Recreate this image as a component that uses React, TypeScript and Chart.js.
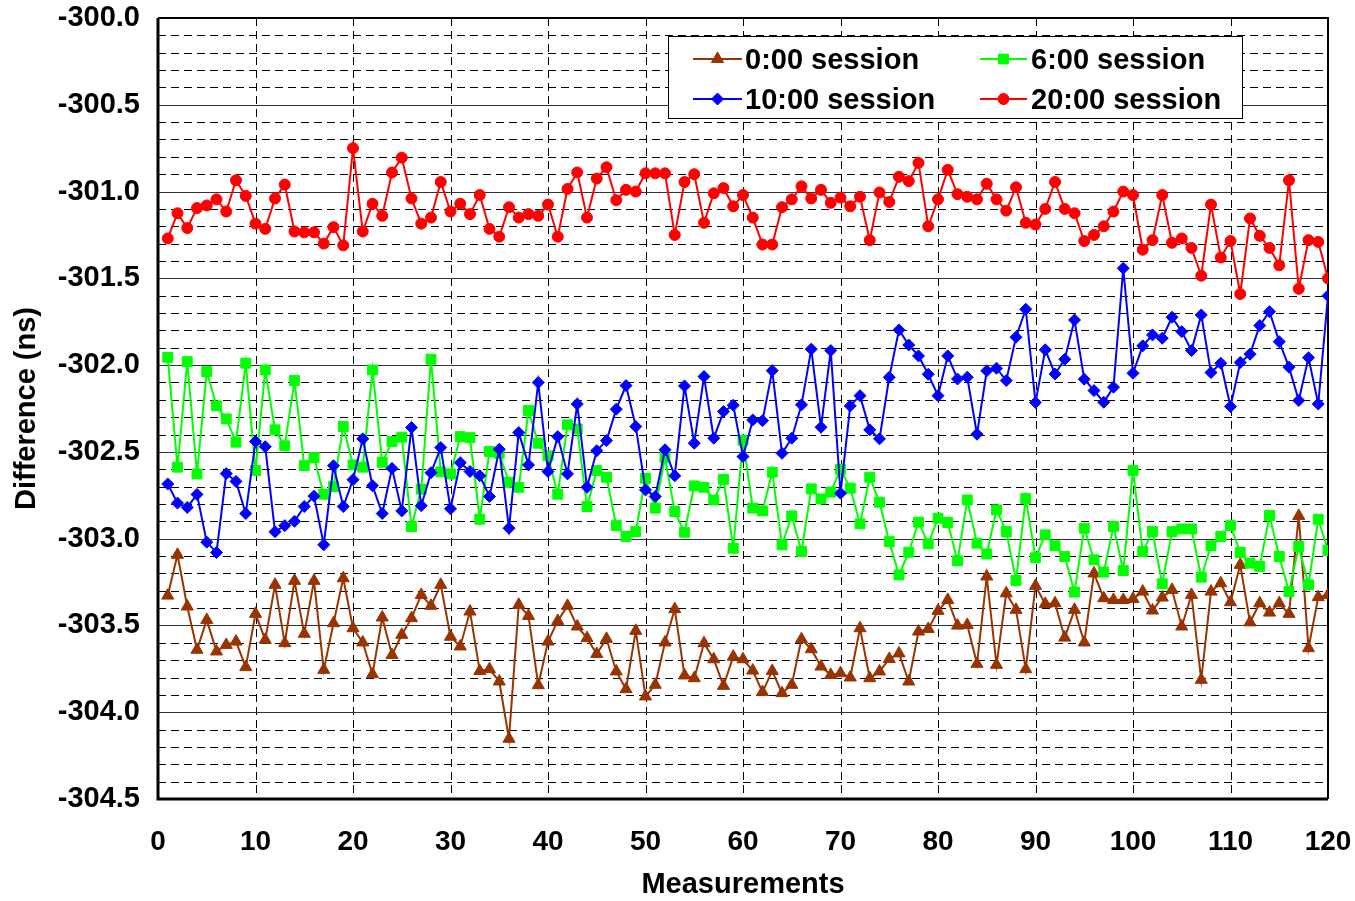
import React, { useEffect, useRef } from 'react';
import { Chart, registerables } from 'chart.js';

Chart.register(...registerables);

// Measurement index (x categories)
const measurements: number[] = Array.from({ length: 120 }, (_, i) => i + 1);

const seriesLabels = ['0:00 session', '6:00 session', '10:00 session', '20:00 session'];

const session0000: number[] = [
  -303.328, -303.093, -303.391, -303.640, -303.468, -303.650, -303.612, -303.593, -303.740, -303.433,
  -303.583, -303.266, -303.602, -303.243, -303.548, -303.243, -303.756, -303.487, -303.228, -303.516,
  -303.598, -303.781, -303.454, -303.670, -303.554, -303.458, -303.324, -303.387, -303.266, -303.565,
  -303.621, -303.420, -303.763, -303.752, -303.823, -304.153, -303.381, -303.445, -303.844, -303.593,
  -303.474, -303.387, -303.506, -303.573, -303.664, -303.577, -303.765, -303.867, -303.531, -303.909,
  -303.842, -303.598, -303.406, -303.788, -303.804, -303.602, -303.695, -303.848, -303.680, -303.695,
  -303.760, -303.884, -303.762, -303.890, -303.842, -303.579, -303.637, -303.737, -303.785, -303.775,
  -303.800, -303.516, -303.804, -303.765, -303.693, -303.661, -303.823, -303.535, -303.520, -303.416,
  -303.353, -303.501, -303.497, -303.721, -303.218, -303.727, -303.315, -303.410, -303.752, -303.272,
  -303.376, -303.372, -303.570, -303.410, -303.598, -303.200, -303.343, -303.353, -303.353, -303.347,
  -303.305, -303.414, -303.339, -303.295, -303.506, -303.324, -303.813, -303.305, -303.257, -303.366,
  -303.151, -303.482, -303.372, -303.426, -303.372, -303.433, -302.869, -303.631, -303.337, -303.324,
];

const session0600: number[] = [
  -301.955, -302.588, -301.980, -302.627, -302.037, -302.235, -302.310, -302.444, -301.989, -302.608,
  -302.028, -302.373, -302.465, -302.089, -302.579, -302.533, -302.744, -302.700, -302.354, -302.575,
  -302.588, -302.028, -302.560, -302.440, -302.415, -302.930, -302.715, -301.966, -302.615, -302.627,
  -302.412, -302.418, -302.888, -302.498, -302.508, -302.675, -302.704, -302.262, -302.450, -302.523,
  -302.744, -302.344, -302.368, -302.815, -302.608, -302.646, -302.925, -302.988, -302.959, -302.652,
  -302.824, -302.533, -302.844, -302.963, -302.696, -302.704, -302.777, -302.658, -303.055, -302.433,
  -302.824, -302.840, -302.617, -303.036, -302.869, -303.074, -302.713, -302.771, -302.732, -302.600,
  -302.709, -302.915, -302.646, -302.790, -303.017, -303.209, -303.078, -302.905, -303.030, -302.882,
  -302.907, -303.128, -302.777, -303.026, -303.088, -302.834, -302.959, -303.241, -302.769, -303.110,
  -302.978, -303.041, -303.103, -303.308, -302.940, -303.122, -303.193, -302.930, -303.184, -302.608,
  -303.074, -302.959, -303.260, -302.959, -302.944, -302.944, -303.222, -303.041, -302.988, -302.925,
  -303.080, -303.141, -303.160, -302.867, -303.103, -303.305, -303.045, -303.266, -302.888, -303.068,
];

const session1000: number[] = [
  -302.685, -302.795, -302.820, -302.745, -303.020, -303.080, -302.625, -302.670, -302.855, -302.440,
  -302.470, -302.960, -302.925, -302.900, -302.815, -302.755, -303.035, -302.580, -302.815, -302.660,
  -302.425, -302.695, -302.855, -302.595, -302.840, -302.360, -302.810, -302.620, -302.475, -302.828,
  -302.562, -302.613, -302.637, -302.757, -302.485, -302.940, -302.389, -302.575, -302.100, -302.613,
  -302.412, -302.627, -302.224, -302.704, -302.493, -302.435, -302.254, -302.118, -302.354, -302.719,
  -302.757, -302.488, -302.638, -302.120, -302.450, -302.066, -302.421, -302.268, -302.231, -302.527,
  -302.316, -302.320, -302.032, -302.508, -302.421, -302.229, -301.908, -302.358, -301.916, -302.738,
  -302.235, -302.176, -302.373, -302.425, -302.070, -301.797, -301.884, -301.947, -302.053, -302.176,
  -301.947, -302.080, -302.070, -302.398, -302.033, -302.018, -302.089, -301.839, -301.678, -302.215,
  -301.912, -302.051, -301.966, -301.740, -302.081, -302.147, -302.214, -302.127, -301.442, -302.047,
  -301.889, -301.826, -301.845, -301.724, -301.807, -301.916, -301.711, -302.043, -301.989, -302.239,
  -301.985, -301.937, -301.772, -301.692, -301.865, -302.012, -302.204, -301.957, -302.224, -301.600,
];

const session2000: number[] = [
  -301.270, -301.125, -301.210, -301.095, -301.080, -301.045, -301.115, -300.935, -301.025, -301.185,
  -301.215, -301.040, -300.960, -301.230, -301.235, -301.235, -301.300, -301.205, -301.310, -300.750,
  -301.230, -301.070, -301.140, -300.890, -300.805, -301.040, -301.185, -301.150, -300.945, -301.115,
  -301.070, -301.130, -301.020, -301.215, -301.260, -301.090, -301.150, -301.130, -301.140, -301.075,
  -301.260, -300.985, -300.890, -301.150, -300.925, -300.860, -301.050, -300.990, -301.000, -300.895,
  -300.895, -300.895, -301.250, -300.945, -300.900, -301.180, -301.010, -300.980, -301.085, -301.020,
  -301.150, -301.305, -301.305, -301.090, -301.045, -300.970, -301.040, -300.990, -301.065, -301.035,
  -301.085, -301.030, -301.280, -301.005, -301.060, -300.915, -300.940, -300.835, -301.200, -301.045,
  -300.875, -301.015, -301.030, -301.045, -300.955, -301.045, -301.110, -300.975, -301.180, -301.190,
  -301.100, -300.945, -301.100, -301.125, -301.285, -301.250, -301.200, -301.115, -301.000, -301.020,
  -301.335, -301.280, -301.020, -301.295, -301.270, -301.325, -301.485, -301.075, -301.380, -301.285,
  -301.590, -301.155, -301.255, -301.325, -301.425, -300.935, -301.560, -301.280, -301.290, -301.500,
];

const yTickValues: number[] = [-300.0, -300.5, -301.0, -301.5, -302.0, -302.5, -303.0, -303.5, -304.0, -304.5];
const xTickValues: number[] = [0, 10, 20, 30, 40, 50, 60, 70, 80, 90, 100, 110, 120];

const BROWN = '#993300';
const GREEN = '#00FF00';
const BLUE = '#0000FF';
const RED = '#FF0000';
const FONT = "'Liberation Sans', Arial, Helvetica, sans-serif";

type Shape = 'triangle' | 'rect' | 'rectRot' | 'circle';

function drawMarker(ctx: CanvasRenderingContext2D, shape: Shape, x: number, y: number, r: number, color: string) {
  ctx.save();
  ctx.fillStyle = color;
  ctx.strokeStyle = color;
  ctx.lineWidth = 1;
  ctx.setLineDash([]);
  ctx.beginPath();
  if (shape === 'triangle') {
    ctx.moveTo(x, y - r);
    ctx.lineTo(x + 0.866 * r, y + 0.5 * r);
    ctx.lineTo(x - 0.866 * r, y + 0.5 * r);
    ctx.closePath();
  } else if (shape === 'rect') {
    const s = Math.SQRT1_2 * r;
    ctx.rect(x - s, y - s, 2 * s, 2 * s);
  } else if (shape === 'rectRot') {
    ctx.moveTo(x, y - r);
    ctx.lineTo(x + r, y);
    ctx.lineTo(x, y + r);
    ctx.lineTo(x - r, y);
    ctx.closePath();
  } else {
    ctx.arc(x, y, r, 0, Math.PI * 2);
  }
  ctx.fill();
  ctx.stroke();
  ctx.restore();
}

const gridPlugin = {
  id: 'excelGrid',
  beforeDatasetsDraw(chart: any) {
    const { ctx, chartArea: a, scales } = chart;
    const x = scales.x;
    const y = scales.y;
    ctx.save();
    // minor dashed horizontal lines every 0.1
    ctx.lineWidth = 1;
    ctx.strokeStyle = '#000';
    ctx.setLineDash([8, 5]);
    for (let k = 1; k < 45; k++) {
      if (k % 5 === 0) continue;
      const py = Math.round(y.getPixelForValue(-300 - k * 0.1)) + 0.5;
      ctx.beginPath();
      ctx.moveTo(a.left, py);
      ctx.lineTo(a.right, py);
      ctx.stroke();
    }
    // vertical dashed lines
    for (let i = 1; i < xTickValues.length - 1; i++) {
      const px = Math.round(x.getPixelForValue(xTickValues[i])) + 0.5;
      ctx.beginPath();
      ctx.moveTo(px, a.top);
      ctx.lineTo(px, a.bottom);
      ctx.stroke();
    }
    // major solid horizontal lines
    ctx.setLineDash([]);
    ctx.strokeStyle = '#333';
    for (let i = 1; i < yTickValues.length - 1; i++) {
      const py = Math.round(y.getPixelForValue(yTickValues[i])) + 0.5;
      ctx.beginPath();
      ctx.moveTo(a.left, py);
      ctx.lineTo(a.right, py);
      ctx.stroke();
    }
    // frame
    ctx.strokeStyle = '#000';
    ctx.lineWidth = 2;
    ctx.beginPath();
    ctx.moveTo(a.left, a.top);
    ctx.lineTo(a.right, a.top);
    ctx.lineTo(a.right, a.bottom);
    ctx.stroke();
    ctx.lineWidth = 3;
    ctx.beginPath();
    ctx.moveTo(a.left, a.top);
    ctx.lineTo(a.left, a.bottom);
    ctx.lineTo(a.right, a.bottom);
    ctx.stroke();
    ctx.restore();
  },
};

const legendItems = [
  { label: seriesLabels[0], color: BROWN, shape: 'triangle' as Shape, r: 7, col: 0, row: 0 },
  { label: seriesLabels[1], color: GREEN, shape: 'rect' as Shape, r: 7, col: 1, row: 0 },
  { label: seriesLabels[2], color: BLUE, shape: 'rectRot' as Shape, r: 6, col: 0, row: 1 },
  { label: seriesLabels[3], color: RED, shape: 'circle' as Shape, r: 5.5, col: 1, row: 1 },
];

const legendPlugin = {
  id: 'boxLegend',
  afterDraw(chart: any) {
    const ctx: CanvasRenderingContext2D = chart.ctx;
    ctx.save();
    ctx.fillStyle = '#fff';
    ctx.fillRect(668.5, 36.5, 574, 82);
    ctx.strokeStyle = '#000';
    ctx.lineWidth = 1;
    ctx.strokeRect(668.5, 36.5, 574, 82);
    const cols = [
      { l0: 693, l1: 742, tx: 745 },
      { l0: 980, l1: 1027, tx: 1031 },
    ];
    const rows = [59, 99];
    legendItems.forEach((it) => {
      const c = cols[it.col];
      const ty = rows[it.row];
      ctx.strokeStyle = it.color;
      ctx.lineWidth = 2;
      ctx.beginPath();
      ctx.moveTo(c.l0, ty);
      ctx.lineTo(c.l1, ty);
      ctx.stroke();
      drawMarker(ctx, it.shape, (c.l0 + c.l1) / 2, ty, it.r, it.color);
      ctx.fillStyle = '#000';
      ctx.font = `bold 29px ${FONT}`;
      ctx.textBaseline = 'middle';
      ctx.textAlign = 'left';
      ctx.fillText(it.label, c.tx, ty + 2);
    });
    ctx.restore();
  },
};

function makeDataset(label: string, values: number[], color: string, shape: Shape, r: number, order: number) {
  return {
    label,
    data: measurements.map((m, i) => ({ x: m, y: values[i] })),
    borderColor: color,
    backgroundColor: color,
    pointBackgroundColor: color,
    pointBorderColor: color,
    pointStyle: shape,
    pointRadius: r,
    pointBorderWidth: 1,
    borderWidth: 2,
    tension: 0,
    fill: false,
    order,
  };
}

export default function App() {
  const canvasRef = useRef<HTMLCanvasElement | null>(null);

  useEffect(() => {
    document.body.style.margin = '0';
    document.body.style.overflow = 'hidden';
    const canvas = canvasRef.current;
    if (!canvas) return;
    const chart = new Chart(canvas, {
      type: 'line',
      data: {
        datasets: [
          makeDataset(seriesLabels[0], session0000, BROWN, 'triangle', 7, 4),
          makeDataset(seriesLabels[1], session0600, GREEN, 'rect', 7, 3),
          makeDataset(seriesLabels[2], session1000, BLUE, 'rectRot', 6, 2),
          makeDataset(seriesLabels[3], session2000, RED, 'circle', 5.5, 1),
        ] as any,
      },
      options: {
        responsive: false,
        maintainAspectRatio: false,
        animation: false,
        devicePixelRatio: 1,
        layout: { padding: { left: 0, right: 27, top: 18, bottom: 0 } },
        plugins: {
          legend: { display: false },
          tooltip: { enabled: false },
        },
        scales: {
          x: {
            type: 'linear',
            min: 0,
            max: 120,
            afterBuildTicks: (s: any) => {
              s.ticks = xTickValues.map((v) => ({ value: v }));
            },
            ticks: {
              color: '#000',
              font: { family: FONT, size: 28, weight: 'bold' },
              padding: 26,
              maxRotation: 0,
              autoSkip: false,
            },
            grid: { display: false, drawTicks: false },
            border: { display: false },
            title: {
              display: true,
              text: 'Measurements',
              color: '#000',
              font: { family: FONT, size: 29, weight: 'bold', lineHeight: 1.1 },
              padding: { top: 0, bottom: 0 },
            },
            afterFit: (s: any) => {
              s.height = 102;
              s.paddingLeft = 0;
              s.paddingRight = 0;
            },
          },
          y: {
            type: 'linear',
            min: -304.5,
            max: -300,
            afterBuildTicks: (s: any) => {
              s.ticks = yTickValues.map((v) => ({ value: v }));
            },
            ticks: {
              color: '#000',
              font: { family: FONT, size: 29, weight: 'bold' },
              padding: 18,
              callback: (v: any) => Number(v).toFixed(1),
              autoSkip: false,
            },
            grid: { display: false, drawTicks: false },
            border: { display: false },
            title: {
              display: true,
              text: 'Difference (ns)',
              color: '#000',
              font: { family: FONT, size: 29, weight: 'bold' },
              padding: { top: 10, bottom: 0 },
            },
            afterFit: (s: any) => {
              s.width = 158;
              s.paddingTop = 0;
              s.paddingBottom = 0;
            },
          },
        },
      } as any,
      plugins: [gridPlugin, legendPlugin],
    });
    return () => chart.destroy();
  }, []);

  return (
    <div style={{ width: 1355, height: 901, background: '#fff' }}>
      <canvas ref={canvasRef} width={1355} height={901} style={{ width: 1355, height: 901, display: 'block' }} />
    </div>
  );
}
